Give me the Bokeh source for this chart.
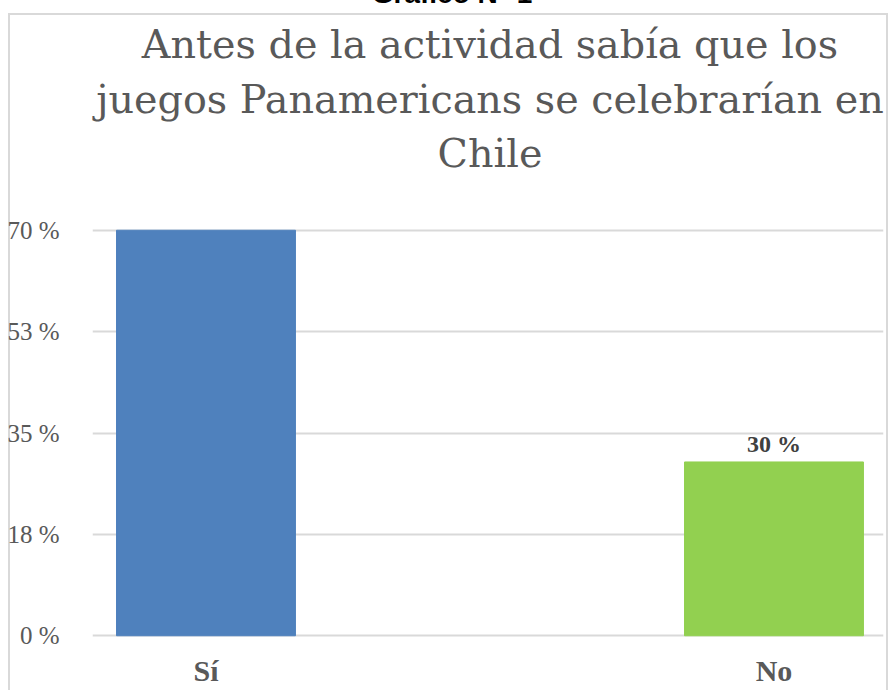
from bokeh.plotting import figure
from bokeh.models import Range1d, FixedTicker, LabelSet, ColumnDataSource, Div
from bokeh.layouts import column
from bokeh.embed import file_html
from bokeh.resources import INLINE

# ---- data ----
categories = ["Sí", "No"]
values = [70, 30]
colors = ["#4F81BD", "#92D050"]
tick_values = [0, 17.5, 35, 52.5, 70]
tick_labels = ["0 %", "18 %", "35 %", "53 %", "70 %"]
data_labels = ["", "30 %"]
chart_title = ["Antes de la actividad sabía que los",
               "juegos Panamericans se celebrarían en",
               "Chile"]
header = "Gráfico N° 1"

xs = [i + 0.5 for i in range(len(categories))]
src = ColumnDataSource(dict(x=xs, top=values, color=colors, lab=data_labels,
                            cat=categories))

# ---- layout ----
W, H = 889, 690
HEAD_H = 190
LEFT, RIGHT, TOP, BOTTOM = 92, 6, 38, 53
X0, X1 = 0.3002, 1.6928
Y0, Y1 = -0.3, 70.3

# header + chart title as HTML text above the plot
title_lines = "".join(f"<div>{t}</div>" for t in chart_title)
html = (
    f"<div style='position:relative;width:{W}px;height:{HEAD_H}px;'>"
    "<div style=\"position:absolute;left:0;top:-19.7px;width:904px;text-align:center;"
    "font-family:'Liberation Sans';font-weight:bold;font-size:28px;line-height:28px;"
    f"color:#000;white-space:nowrap;\">{header}</div>"
    "<div style=\"position:absolute;left:90px;top:17px;width:800px;text-align:center;"
    "font-family:'DejaVu Serif';font-size:39.7px;line-height:54.5px;color:#595959;"
    f"white-space:nowrap;\">{title_lines}</div>"
    "</div>"
)
head = Div(text=html, width=W, height=HEAD_H, margin=0,
           styles={"overflow": "visible"})

p = figure(width=W, height=H - HEAD_H, output_backend="svg", toolbar_location=None,
           x_range=Range1d(X0, X1), y_range=Range1d(Y0, Y1),
           min_border_left=LEFT, min_border_right=RIGHT, min_border_top=TOP,
           min_border_bottom=BOTTOM, margin=0)
p.background_fill_color = "white"
p.border_fill_color = None
p.outline_line_color = None

p.vbar(x="x", top="top", bottom=0, width=0.315, color="color", source=src)
p.add_layout(LabelSet(x="x", y="top", text="lab", source=src, text_align="center",
                      text_baseline="alphabetic", y_offset=10,
                      text_font="Liberation Serif", text_font_style="bold",
                      text_font_size="24px", text_color="#404040"))

# y axis
p.yaxis.ticker = FixedTicker(ticks=tick_values)
p.yaxis.major_label_overrides = {t: l for t, l in zip(tick_values, tick_labels)}
p.yaxis.axis_line_color = None
p.yaxis.major_tick_line_color = None
p.yaxis.minor_tick_line_color = None
p.yaxis.major_label_standoff = 27
p.yaxis.major_label_text_font = "Liberation Serif"
p.yaxis.major_label_text_font_size = "25px"
p.yaxis.major_label_text_color = "#595959"

# x axis
p.xaxis.ticker = FixedTicker(ticks=xs)
p.xaxis.major_label_overrides = {x: c for x, c in zip(xs, categories)}
p.xaxis.axis_line_color = None
p.xaxis.major_tick_line_color = None
p.xaxis.minor_tick_line_color = None
p.xaxis.major_label_standoff = 10
p.xaxis.major_label_text_font = "Liberation Serif"
p.xaxis.major_label_text_font_style = "bold"
p.xaxis.major_label_text_font_size = "30px"
p.xaxis.major_label_text_color = "#595959"

p.xgrid.grid_line_color = None
p.ygrid.ticker = FixedTicker(ticks=tick_values)
p.ygrid.grid_line_color = "#d9d9d9"
p.ygrid.grid_line_width = 2

# chart border drawn as CSS background lines behind the whole layout
line = "linear-gradient(#d9d9d9,#d9d9d9)"
layout = column(head, p, width=W, height=H, spacing=0, margin=0,
                styles={"background": (f"{line} 8px 13px / 2px 700px no-repeat, "
                                       f"{line} 8px 13px / 880px 2px no-repeat, "
                                       f"{line} 886px 13px / 2px 700px no-repeat, white")})

open("out.html", "w").write(file_html(layout, INLINE))
